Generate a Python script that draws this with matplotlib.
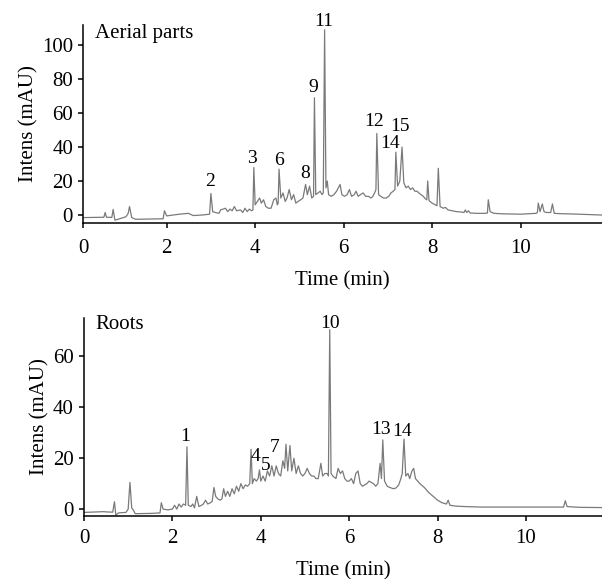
import matplotlib
matplotlib.use("Agg")
import matplotlib.pyplot as plt

plt.rcParams['font.family'] = ['Liberation Serif', 'DejaVu Serif']

# Aerial parts chromatogram (time in min, intensity in mAU)
aerial_time = [0.12, 0.58, 0.61, 0.64, 0.76, 0.79, 0.83, 0.9, 1.08, 1.13, 1.16, 1.21, 1.3,
               1.92, 1.95, 2.0, 2.29, 2.49, 2.6, 2.8, 2.97, 3.0, 3.04, 3.1, 3.18, 3.22, 3.33,
               3.38, 3.43, 3.48, 3.53, 3.58, 3.67, 3.72, 3.77, 3.82, 3.87, 3.92, 3.95, 3.97,
               4.0, 4.05, 4.1, 4.14, 4.19, 4.24, 4.3, 4.36, 4.42, 4.47, 4.5, 4.52, 4.54, 4.58,
               4.63, 4.68, 4.72, 4.77, 4.82, 4.87, 4.92, 4.97, 5.03, 5.08, 5.14, 5.18, 5.23,
               5.28, 5.32, 5.34, 5.37, 5.42, 5.47, 5.51, 5.54, 5.57, 5.6, 5.63, 5.66, 5.72,
               5.78, 5.84, 5.88, 5.92, 5.96, 6.02, 6.08, 6.13, 6.18, 6.24, 6.28, 6.33, 6.38,
               6.44, 6.5, 6.56, 6.62, 6.66, 6.7, 6.73, 6.75, 6.79, 6.84, 6.9, 6.96, 7.02, 7.07,
               7.12, 7.16, 7.18, 7.22, 7.27, 7.32, 7.36, 7.41, 7.46, 7.51, 7.56, 7.61, 7.66,
               7.7, 7.75, 7.8, 7.85, 7.88, 7.9, 7.93, 8.0, 8.07, 8.11, 8.14, 8.18, 8.25, 8.3,
               8.36, 8.45, 8.55, 8.65, 8.72, 8.75, 8.78, 8.82, 8.86, 9.0, 9.2, 9.25, 9.27, 9.31,
               9.4, 9.6, 9.8, 10.0, 10.2, 10.35, 10.38, 10.4, 10.44, 10.49, 10.53, 10.58, 10.68,
               10.72, 10.76, 10.9, 11.2, 11.5, 11.84]
aerial_int = [-1.5, -1.3, 1.5, -1.3, -1.4, 3.3, -3, -2.5, -1, 1, 5, -1.5, -2.5,
              -2.2, 2.5, -0.5, 0.5, 1, -0.3, 0, 0.5, 12.7, 2, 1.5, 1, 3, 4,
              2, 3.5, 2.5, 5, 2.5, 3, 1.5, 4, 2, 3.5, 2.5, 3, 28,
              6, 8, 10, 7, 9, 5, 4, 4, 9, 10, 6, 7, 27, 10,
              13, 8, 10, 15, 9, 12, 7, 8, 9, 10, 18, 12, 17,
              10, 11, 69, 12, 13, 14, 12, 13, 109, 16, 20, 12, 11,
              12, 14, 16, 18, 12, 11, 12, 15, 11, 12, 14, 11, 12,
              13, 11, 11, 10, 11, 13, 15, 48, 12, 11, 10, 10, 11, 13,
              14, 15, 37, 17, 20, 40, 19, 16, 17, 15, 16, 14, 14,
              13, 12, 11, 9.5, 9, 20, 8.5, 7, 6, 5.5, 27.5, 5, 4, 4.5,
              3, 2.5, 2, 1.8, 1.5, 3, 1.5, 2.5, 1.2, 1, 1, 1.2, 9, 2,
              1, 0.7, 0.6, 0.5, 0.8, 1, 1.5, 7, 2, 6.5, 2, 1.5, 1.5,
              6.5, 1, 0.8, 0.6, 0.3, 0]

# Roots chromatogram
roots_time = [0, 0.45, 0.5, 0.65, 0.69, 0.72, 0.78, 0.95, 1.0, 1.04, 1.08, 1.12, 1.16, 1.5,
              1.72, 1.75, 1.79, 1.9, 2.0, 2.05, 2.1, 2.15, 2.2, 2.25, 2.3, 2.33, 2.36, 2.42,
              2.46, 2.5, 2.55, 2.6, 2.66, 2.7, 2.75, 2.8, 2.86, 2.9, 2.94, 2.98, 3.03, 3.08,
              3.12, 3.16, 3.2, 3.25, 3.3, 3.35, 3.4, 3.45, 3.5, 3.55, 3.6, 3.65, 3.7, 3.75,
              3.78, 3.81, 3.85, 3.9, 3.94, 3.97, 4.0, 4.05, 4.1, 4.15, 4.2, 4.25, 4.3, 4.35,
              4.4, 4.45, 4.5, 4.54, 4.57, 4.61, 4.66, 4.7, 4.75, 4.8, 4.85, 4.9, 4.95, 5.0,
              5.05, 5.1, 5.15, 5.2, 5.25, 5.3, 5.36, 5.4, 5.45, 5.5, 5.53, 5.56, 5.59, 5.63,
              5.7, 5.75, 5.8, 5.85, 5.9, 5.95, 6.0, 6.05, 6.1, 6.15, 6.2, 6.25, 6.3, 6.35,
              6.4, 6.45, 6.5, 6.55, 6.6, 6.65, 6.7, 6.73, 6.76, 6.8, 6.86, 6.92, 7.0, 7.06,
              7.12, 7.17, 7.2, 7.24, 7.28, 7.33, 7.37, 7.42, 7.46, 7.5, 7.55, 7.6, 7.7, 7.8,
              7.9, 8.0, 8.1, 8.2, 8.24, 8.28, 8.4, 8.6, 9.0, 10.0, 10.85, 10.89, 10.93, 11.2,
              11.72]
roots_int = [-1.3, -1, -1.1, -1.2, 2.9, -2.4, -1.5, -1.3, 0, 10.5, 0.5, -0.5, -1.8, -1.7,
             -1.5, 2.5, 0, -0.3, 0, 1.5, 0, 2, 0.8, 2, 1.5, 24.5, 1.5, 1,
             2, 0.5, 5, 1, 1.5, 2, 3.5, 2, 2.5, 3, 8.5, 5, 4, 3.5,
             4, 8, 5, 7, 5, 8, 6, 9, 7, 10, 8, 9.5, 9, 10,
             23.5, 10, 12, 11, 12, 15.4, 11, 13, 11, 15, 13, 17, 13, 17,
             14, 13, 19, 16, 25.5, 15, 25, 15, 20, 14, 17, 14, 13, 14,
             16, 14, 13, 13, 12, 12, 18, 13, 14, 14, 13, 70.5, 14, 13,
             12, 16, 14, 15, 12, 11, 11, 12, 10, 14, 15, 10, 9, 9.5,
             10, 11, 10.5, 10, 9, 10, 18, 12, 27.2, 11, 9, 8.5, 8, 8.3,
             9.5, 12, 14, 27.5, 13, 14, 12, 15, 16, 12, 11, 10, 8.5, 6.5,
             5, 3.5, 2.5, 2, 3.5, 1.5, 1.2, 1, 0.8, 0.8, 0.8, 3.3, 1, 0.7,
             0.6]

# peak numbers and where their labels sit
aerial_labels = ["2", "3", "6", "8", "9", "11", "12", "14", "15"]
aerial_lab_x = [2.98, 3.93, 4.53, 5.12, 5.32, 5.54, 6.69, 7.06, 7.27]
aerial_lab_y = [20, 33.3, 31.8, 24.5, 75, 114, 55, 41.8, 52]

roots_labels = ["1", "4", "5", "7", "10", "13", "14"]
roots_lab_x = [2.28, 3.88, 4.11, 4.32, 5.56, 6.72, 7.2]
roots_lab_y = [28.5, 20.6, 17, 24.3, 73, 31.4, 30.4]

fig = plt.figure(figsize=(6.02, 5.79), dpi=100)
ax1 = fig.add_axes([0.1387, 0.6154, 0.8613, 0.3414])
ax2 = fig.add_axes([0.1395, 0.1093, 0.8605, 0.341])

line_col = '#7a7a7a'

def style(ax, xpad):
    for s in ['top', 'right']:
        ax.spines[s].set_visible(False)
    for s in ['left', 'bottom']:
        ax.spines[s].set_linewidth(1.1)
    ax.tick_params(axis='both', labelsize=15, width=1.1, length=3.5, pad=4, direction='out')
    ax.tick_params(axis='x', pad=xpad)
    ax.set_xlabel('Time (min)', fontsize=15, labelpad=9.5)
    ax.set_ylabel('Intens (mAU)', fontsize=15, labelpad=2.5)
    ax.patch.set_alpha(0)

# top panel
ax1.plot(aerial_time, aerial_int, color=line_col, lw=0.9)
ax1.set_xlim(0.12, 11.84)
ax1.set_ylim(-4.5, 111.8)
ax1.set_xticks([0.12, 2, 4, 6, 8, 10])
ax1.set_xticklabels(['0', '2', '4', '6', '8', '10'])
ax1.set_yticks([0, 20, 40, 60, 80, 100])
style(ax1, 8)
ax1.text(0.38, 107, 'Aerial parts', fontsize=15, ha='left', va='center')
for lab, x, y in zip(aerial_labels, aerial_lab_x, aerial_lab_y):
    ax1.text(x, y, lab, fontsize=14, ha='center', va='center', clip_on=False)

# bottom panel
ax2.plot(roots_time, roots_int, color=line_col, lw=0.9)
ax2.set_xlim(0, 11.72)
ax2.set_ylim(-2.6, 75)
ax2.set_xticks([0, 2, 4, 6, 8, 10])
ax2.set_yticks([0, 20, 40, 60])
style(ax2, 6)
ax2.text(0.25, 72.4, 'Roots', fontsize=15, ha='left', va='center')
for lab, x, y in zip(roots_labels, roots_lab_x, roots_lab_y):
    ax2.text(x, y, lab, fontsize=14, ha='center', va='center', clip_on=False)

fig.savefig('out.png', dpi=100)
